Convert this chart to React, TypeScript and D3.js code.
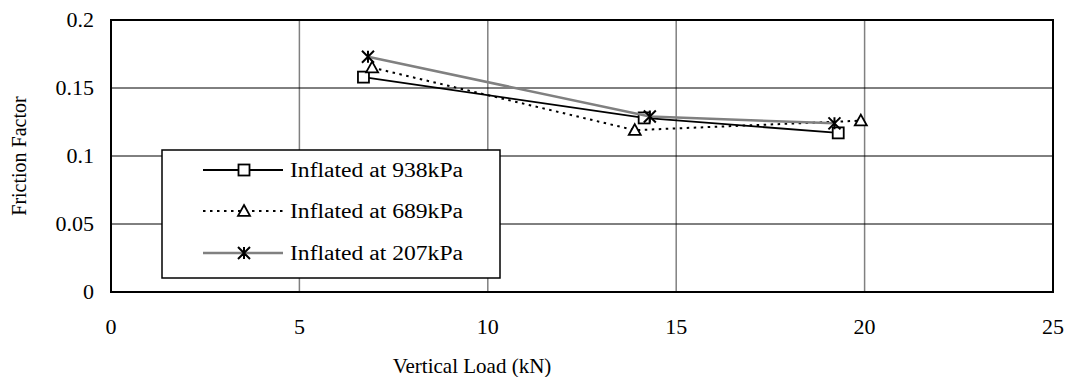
import { useEffect, useRef } from 'react';
import * as d3 from 'd3';

// values
const load938 = [6.7, 14.15, 19.3];
const ff938 = [0.158, 0.128, 0.117];
const load689 = [6.93, 13.9, 19.9];
const ff689 = [0.165, 0.119, 0.126];
const load207 = [6.82, 14.3, 19.2];
const ff207 = [0.173, 0.129, 0.124];

const seriesNames = ['Inflated at 938kPa', 'Inflated at 689kPa', 'Inflated at 207kPa'];
const xTicks = [0, 5, 10, 15, 20, 25];
const yTicks = [0, 0.05, 0.1, 0.15, 0.2];

const FONT = '"Liberation Serif", "Times New Roman", serif';

const App = () => {
    const svgRef = useRef<SVGSVGElement>(null);

    useEffect(() => {
        const width = 1068;
        const height = 377;
        const svg = d3.select(svgRef.current);
        svg.selectAll('*').remove();

        const x = d3.scaleLinear().domain([0, 25]).range([111, 1053]);
        const y = d3.scaleLinear().domain([0, 0.2]).range([292, 20]);

        svg.append('rect').attr('width', width).attr('height', height).attr('fill', '#fff');

        // gridlines
        svg.append('g').selectAll('line')
            .data(xTicks.slice(1, -1))
            .enter().append('line')
            .attr('x1', d => x(d)).attr('x2', d => x(d))
            .attr('y1', y(0)).attr('y2', y(0.2))
            .attr('stroke', '#808080').attr('stroke-width', 1.5);

        svg.append('g').selectAll('line')
            .data(yTicks.slice(1, -1))
            .enter().append('line')
            .attr('x1', x(0)).attr('x2', x(25))
            .attr('y1', d => y(d)).attr('y2', d => y(d))
            .attr('stroke', '#000').attr('stroke-width', 1);

        // plot border
        svg.append('rect')
            .attr('x', x(0)).attr('y', y(0.2))
            .attr('width', x(25) - x(0)).attr('height', y(0) - y(0.2))
            .attr('fill', 'none').attr('stroke', '#000').attr('stroke-width', 2);

        // tick labels
        svg.append('g').selectAll('text')
            .data(xTicks)
            .enter().append('text')
            .attr('x', d => x(d)).attr('y', 334)
            .attr('text-anchor', 'middle')
            .attr('font-family', FONT).attr('font-size', 22)
            .text(d => d);

        svg.append('g').selectAll('text')
            .data(yTicks)
            .enter().append('text')
            .attr('x', 94).attr('y', d => y(d) + 7)
            .attr('text-anchor', 'end')
            .attr('font-family', FONT).attr('font-size', 22)
            .text(d => d3.format('~g')(d));

        // axis titles
        svg.append('text')
            .attr('x', 472).attr('y', 373)
            .attr('text-anchor', 'middle')
            .attr('font-family', FONT).attr('font-size', 21)
            .text('Vertical Load (kN)');

        svg.append('text')
            .attr('transform', 'translate(26,156) rotate(-90)')
            .attr('text-anchor', 'middle')
            .attr('font-family', FONT).attr('font-size', 20)
            .text('Friction Factor');

        const line = d3.line<[number, number]>().x(d => x(d[0])).y(d => y(d[1]));

        const series = [
            { pts: d3.zip(load938, ff938) as [number, number][], stroke: '#000', width: 1.8, dash: null, marker: 'square' },
            { pts: d3.zip(load689, ff689) as [number, number][], stroke: '#000', width: 2, dash: '2.5,4.5', marker: 'triangle' },
            { pts: d3.zip(load207, ff207) as [number, number][], stroke: '#808080', width: 2.5, dash: null, marker: 'star' },
        ];

        const drawMarker = (g: d3.Selection<SVGGElement, unknown, null, undefined>, kind: string, cx: number, cy: number) => {
            if (kind === 'square') {
                g.append('rect')
                    .attr('x', cx - 5.5).attr('y', cy - 5.5).attr('width', 11).attr('height', 11)
                    .attr('fill', '#fff').attr('stroke', '#000').attr('stroke-width', 1.8);
            } else if (kind === 'triangle') {
                const s = 6;
                g.append('path')
                    .attr('d', `M${cx},${cy - s}L${cx + s},${cy + s * 0.8}L${cx - s},${cy + s * 0.8}Z`)
                    .attr('fill', '#fff').attr('stroke', '#000').attr('stroke-width', 1.8);
            } else {
                const s = 6;
                g.append('path')
                    .attr('d', `M${cx - s},${cy - s}L${cx + s},${cy + s}M${cx + s},${cy - s}L${cx - s},${cy + s}M${cx},${cy - s}L${cx},${cy + s}`)
                    .attr('stroke', '#000').attr('stroke-width', 2).attr('fill', 'none');
            }
        };

        series.forEach(s => {
            const g = svg.append('g');
            g.append('path')
                .attr('d', line(s.pts))
                .attr('fill', 'none')
                .attr('stroke', s.stroke)
                .attr('stroke-width', s.width)
                .attr('stroke-dasharray', s.dash);
            s.pts.forEach(p => drawMarker(g, s.marker, x(p[0]), y(p[1])));
        });

        // legend
        const lg = svg.append('g');
        lg.append('rect')
            .attr('x', 162).attr('y', 150).attr('width', 338).attr('height', 128)
            .attr('fill', '#fff').attr('stroke', '#000').attr('stroke-width', 1.5);

        const rowY = [170, 211, 253];
        series.forEach((s, i) => {
            const g = lg.append('g');
            g.append('line')
                .attr('x1', 203).attr('x2', 283)
                .attr('y1', rowY[i]).attr('y2', rowY[i])
                .attr('stroke', s.stroke).attr('stroke-width', s.width)
                .attr('stroke-dasharray', s.dash);
            drawMarker(g, s.marker, 244, rowY[i]);
            g.append('text')
                .attr('x', 290).attr('y', rowY[i] + 7)
                .attr('font-family', FONT).attr('font-size', 20)
                .attr('textLength', 173).attr('lengthAdjust', 'spacingAndGlyphs')
                .text(seriesNames[i]);
        });
    }, []);

    return (
        <div style={{ position: 'absolute', left: 0, top: 0 }}>
            <svg ref={svgRef} width={1068} height={377} style={{ display: 'block' }}></svg>
        </div>
    );
};

export default App;
